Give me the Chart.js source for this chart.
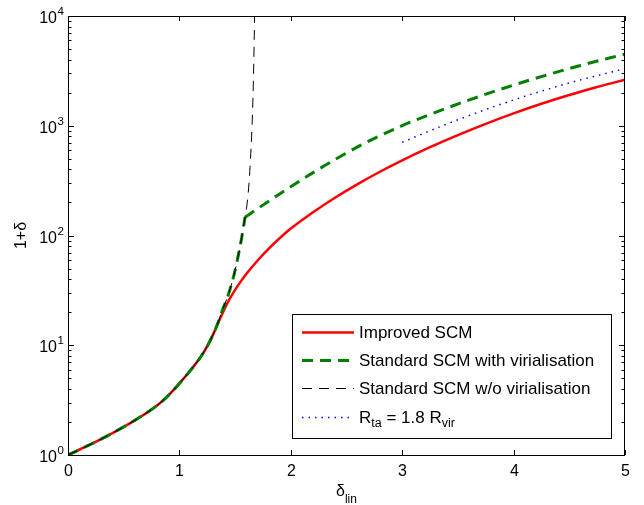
<!DOCTYPE html>
<html>
<head>
<meta charset="utf-8">
<script src="https://cdn.jsdelivr.net/npm/chart.js@4/dist/chart.umd.min.js"></script>
<style>
  html, body { margin: 0; padding: 0; background: #fff; }
</style>
</head>
<body>
<canvas id="chart" width="644" height="505"></canvas>
<script>
// values
const improvedX = [0, 0.2, 0.4, 0.6, 0.8, 0.9, 1.0, 1.1, 1.2, 1.25, 1.3, 1.35, 1.4, 1.45, 1.5, 1.55, 1.6, 1.7, 1.8, 1.9, 2.0, 2.2, 2.4, 2.6, 2.8, 3.0, 3.25, 3.5, 3.75, 4.0, 4.25, 4.5, 4.75, 5.0];
const improvedY = [1, 1.247, 1.585, 2.07, 2.83, 3.48, 4.49, 5.92, 8.07, 9.82, 12.36, 16.1, 20.9, 26.3, 32.0, 38.0, 44.5, 58.9, 75.5, 94.4, 115.6, 163, 222, 294, 381, 484, 638, 822, 1041, 1296, 1585, 1905, 2252, 2630];

// standard SCM up to virialisation (shared by both standard curves)
const collapseX = [0, 0.2, 0.4, 0.6, 0.8, 0.9, 1.0, 1.1, 1.2, 1.25, 1.3, 1.335, 1.39, 1.436, 1.49, 1.531, 1.559, 1.589];
const collapseY = [1, 1.247, 1.585, 2.07, 2.83, 3.48, 4.49, 5.92, 8.07, 9.82, 12.36, 14.96, 21.4, 28.2, 43.7, 67.6, 95.5, 146.6];

// standard SCM with virialisation, after the kink
const virialX = [1.589, 1.7, 1.9, 2.2, 2.4, 2.7, 3.0, 3.25, 3.7, 4.15, 4.6, 5.0];
const virialY = [146.6, 175, 239, 374, 495, 724, 1002, 1268, 1862, 2618, 3540, 4498];

// standard SCM without virialisation, past the kink
const runawayX = [1.605, 1.618, 1.634, 1.652, 1.664, 1.672, 1.68];
const runawayY = [186, 245, 417, 1000, 2512, 6607, 25119];

const rtaX = [3.0, 3.5, 4.0, 4.5, 5.0];
const rtaY = [708, 1135, 1718, 2455, 3311];

const legendLabels = ['Improved SCM', 'Standard SCM with virialisation', 'Standard SCM w/o virialisation', 'R_{ta} = 1.8 R_{vir}'];
const xTicks = [0, 1, 2, 3, 4, 5];
const yExponents = [0, 1, 2, 3, 4];

const FONT = '"Liberation Sans", Arial, Helvetica, sans-serif';

const styles = [
  { borderColor: '#ff0000', borderWidth: 2.5, borderDash: [] },
  { borderColor: '#008000', borderWidth: 3, borderDash: [11, 7] },
  { borderColor: '#000000', borderWidth: 1, borderDash: [10, 7] },
  { borderColor: '#0000ff', borderWidth: 1.5, borderDash: [1.5, 5] },
];

function pts(xs, ys) {
  return xs.map((x, i) => ({ x, y: ys[i] }));
}

// text with _{sub} parts, drawn left to right from x
function richText(ctx, text, x, y, size, subSize, dy) {
  const parts = text.split(/(_\{[^}]*\})/).filter(s => s.length);
  parts.forEach(p => {
    const sub = p.startsWith('_{');
    const t = sub ? p.slice(2, -1) : p;
    ctx.font = `${sub ? subSize : size}px ${FONT}`;
    ctx.fillText(t, x, sub ? y + dy : y);
    x += ctx.measureText(t).width;
  });
  return x;
}

const frame = {
  id: 'frame',
  afterDraw(chart) {
    const { ctx, chartArea: a, scales: { x, y } } = chart;
    ctx.save();
    ctx.strokeStyle = '#000';
    ctx.fillStyle = '#000';
    ctx.lineWidth = 1;
    const seg = (x1, y1, x2, y2) => { ctx.beginPath(); ctx.moveTo(x1, y1); ctx.lineTo(x2, y2); ctx.stroke(); };

    // box
    ctx.strokeRect(a.left + 0.5, a.top + 0.5, a.right - a.left - 1, a.bottom - a.top);

    // x ticks (inside, top and bottom)
    ctx.font = `16px ${FONT}`;
    ctx.textAlign = 'center';
    ctx.textBaseline = 'alphabetic';
    xTicks.forEach(v => {
      const px = Math.round(x.getPixelForValue(v)) + 0.5;
      seg(px, a.bottom, px, a.bottom - 5);
      seg(px, a.top, px, a.top + 5);
      ctx.fillText(String(v), px, a.bottom + 21);
    });

    // y ticks, log major and minor
    for (let e = 0; e < yExponents.length; e++) {
      const maxM = e === yExponents.length - 1 ? 1 : 9;
      for (let m = 1; m <= maxM; m++) {
        const py = Math.round(y.getPixelForValue(m * Math.pow(10, yExponents[e]))) + 0.5;
        const len = m === 1 ? 6 : 3.5;
        seg(a.left, py, a.left + len, py);
        seg(a.right, py, a.right - len, py);
      }
    }
    yExponents.forEach(e => {
      const py = y.getPixelForValue(Math.pow(10, e));
      ctx.textAlign = 'right';
      ctx.font = `16px ${FONT}`;
      ctx.fillText('10', a.left - 11, py + 7);
      ctx.textAlign = 'left';
      ctx.font = `11.5px ${FONT}`;
      ctx.fillText(String(e), a.left - 10.5, py - 1);
    });

    // axis titles
    ctx.textAlign = 'left';
    ctx.font = `16px ${FONT}`;
    const w = ctx.measureText('δ').width;
    ctx.font = `12px ${FONT}`;
    const ws = ctx.measureText('lin').width;
    richText(ctx, 'δ_{lin}', (a.left + a.right) / 2 - (w + ws) / 2, 496, 16, 12, 7);

    ctx.save();
    ctx.translate(22, (a.top + a.bottom) / 2);
    ctx.rotate(-Math.PI / 2);
    ctx.textAlign = 'center';
    ctx.textBaseline = 'middle';
    ctx.font = `16px ${FONT}`;
    ctx.fillText('1+δ', 0, 0);
    ctx.restore();

    // legend
    const lx = 292, ly = 314, lw = 319, lh = 124;
    ctx.fillStyle = '#fff';
    ctx.fillRect(lx, ly, lw, lh);
    ctx.strokeRect(lx + 0.5, ly + 0.5, lw, lh);
    const rows = [332, 360, 388, 417];
    styles.forEach((s, i) => {
      const ry = rows[i] + 0.5;
      ctx.strokeStyle = s.borderColor;
      ctx.lineWidth = s.borderWidth;
      ctx.setLineDash(s.borderDash);
      seg(302, ry, 354, ry);
      ctx.setLineDash([]);
      ctx.fillStyle = '#000';
      ctx.textAlign = 'left';
      ctx.textBaseline = 'middle';
      richText(ctx, legendLabels[i], 359, rows[i] + 1, 17, 12.5, 6);
    });
    ctx.restore();
  }
};

new Chart(document.getElementById('chart').getContext('2d'), {
  type: 'line',
  data: {
    datasets: [
      { label: legendLabels[0], data: pts(improvedX, improvedY), ...styles[0], order: 4 },
      { label: legendLabels[1], data: pts(collapseX, collapseY), ...styles[1], order: 3 },
      { label: legendLabels[1], data: pts(virialX, virialY), ...styles[1], order: 3 },
      { label: legendLabels[2], data: pts(collapseX.concat(runawayX), collapseY.concat(runawayY)), ...styles[2], order: 1 },
      { label: legendLabels[3], data: pts(rtaX, rtaY), ...styles[3], order: 0 },
    ],
  },
  options: {
    responsive: false,
    animation: false,
    layout: { padding: { left: 68, right: 19, top: 16, bottom: 50 } },
    elements: {
      point: { radius: 0 },
      line: { cubicInterpolationMode: 'monotone', borderCapStyle: 'butt', fill: false },
    },
    scales: {
      x: { type: 'linear', min: 0, max: 5, display: false },
      y: { type: 'logarithmic', min: 1, max: 10000, display: false },
    },
    plugins: {
      legend: { display: false },
      tooltip: { enabled: false },
    },
  },
  plugins: [frame],
});
</script>
</body>
</html>
